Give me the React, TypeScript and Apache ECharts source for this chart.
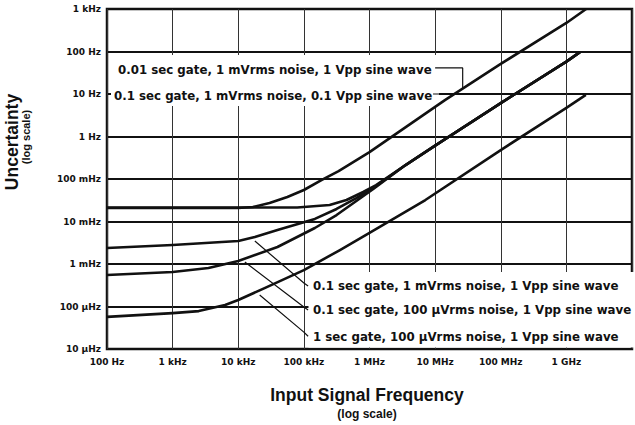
import React, { useEffect, useRef } from "react";
import * as echarts from "echarts";

// Tick labels
const xTickLabels = ["100 Hz", "1 kHz", "10 kHz", "100 kHz", "1 MHz", "10 MHz", "100 MHz", "1 GHz", ""];
const yTickLabels = ["10 µHz", "100 µHz", "1 mHz", "10 mHz", "100 mHz", "1 Hz", "10 Hz", "100 Hz", "1 kHz"];

// Curve names
const seriesNames = [
  "0.01 sec gate, 1 mVrms noise, 1 Vpp sine wave",
  "0.1 sec gate, 1 mVrms noise, 0.1 Vpp sine wave",
  "0.1 sec gate, 1 mVrms noise, 1 Vpp sine wave",
  "0.1 sec gate, 100 µVrms noise, 1 Vpp sine wave",
  "1 sec gate, 100 µVrms noise, 1 Vpp sine wave",
];

// [frequency Hz, uncertainty Hz]
const curveA = [
  [100, 0.0208], [1000, 0.0208], [10000, 0.0208], [16700, 0.0219], [30000, 0.0272],
  [56000, 0.0377], [100000, 0.0551], [188000, 0.095], [338000, 0.154], [1000000, 0.43],
  [14100000, 7.2], [100000000, 51], [1000000000, 469], [2000000000, 1000],
];
const curveB = [
  [100, 0.0213], [1000, 0.0213], [10000, 0.0213], [79100, 0.0213], [247000, 0.0244],
  [446000, 0.032], [802000, 0.0494], [1260000, 0.072], [3550000, 0.213], [10000000, 0.61],
  [100000000, 6.1], [1000000000, 57.8], [1610000000, 97],
];
const curveC = [
  [100, 0.00238], [1000, 0.0028], [10000, 0.00348], [17900, 0.00432], [39600, 0.0063],
  [147000, 0.0115], [315000, 0.0197], [630000, 0.0357], [1170000, 0.063], [3550000, 0.213],
  [10000000, 0.61], [100000000, 6.1], [1000000000, 57.8], [1610000000, 97],
];
const curveD = [
  [100, 0.00055], [1000, 0.00065], [3520, 0.000805], [10000, 0.00118], [39600, 0.00251],
  [147000, 0.00703], [315000, 0.0142], [630000, 0.0303], [1170000, 0.06], [3550000, 0.213],
  [10000000, 0.61], [100000000, 6.1], [1000000000, 57.8], [1610000000, 97],
];
const curveE = [
  [100, 0.000057], [1000, 0.00007], [2500, 0.000078], [6300, 0.000108], [10000, 0.000142],
  [25200, 0.00027], [100000, 0.00072], [349000, 0.0021], [1000000, 0.0054], [7100000, 0.032],
  [100000000, 0.48], [1000000000, 4.7], [1980000000, 9.5],
];

// Leader lines (annotation pointers), in data coordinates
const leaderA = [[10000000, 41], [26300000, 41], [26300000, 13.8]];
const leaderB = [[9300000, 10], [164000000, 10]];
const leaderC = [[17900, 0.00348], [100000, 0.000357], [116000, 0.000303]];
const leaderD = [[12600, 0.00111], [100000, 0.000097], [116000, 0.000083]];
const leaderE = [[21200, 0.000187], [100000, 0.000025], [116000, 0.00002]];

const FONT = "'Liberation Sans', Arial, sans-serif";
const WIDE = "'DejaVu Sans', sans-serif";
const INK = "#111";

export default function App() {
  const ref = useRef<HTMLDivElement>(null);

  useEffect(() => {
    if (!ref.current) return;
    const chart = echarts.init(ref.current, undefined, { renderer: "svg" });

    const curve = (name: string, data: number[][]) => ({
      name,
      type: "line",
      data,
      showSymbol: false,
      smooth: false,
      silent: true,
      lineStyle: { color: INK, width: 2.6, join: "round" },
      z: 3,
    });
    const leader = (data: number[][]) => ({
      type: "line",
      data,
      showSymbol: false,
      silent: true,
      lineStyle: { color: INK, width: 1.2 },
      z: 3,
    });

    const labelText = (text: string, x: number, y: number) => ({
      type: "text",
      x,
      y,
      z: 4,
      style: {
        text,
        fill: INK,
        font: `bold 11.8px ${WIDE}`,
        align: "left",
        verticalAlign: "middle",
      },
    });

    chart.setOption({
      animation: false,
      backgroundColor: "#fff",
      grid: {
        left: 107,
        top: 9,
        right: -4,
        bottom: 76,
        show: true,
        borderColor: INK,
        borderWidth: 2.5,
        backgroundColor: "transparent",
      },
      xAxis: {
        type: "log",
        logBase: 10,
        min: 100,
        max: 1e10,
        axisLine: { show: false },
        axisTick: { show: false },
        splitLine: { show: true, lineStyle: { color: "#333", width: 1 } },
        axisLabel: {
          margin: 8,
          color: INK,
          fontFamily: WIDE,
          fontWeight: "bold",
          fontSize: 9,
          formatter: (v: number) => xTickLabels[Math.round(Math.log10(v)) - 2] ?? "",
        },
      },
      yAxis: {
        type: "log",
        logBase: 10,
        min: 1e-5,
        max: 1e3,
        axisLine: { show: false },
        axisTick: { show: false },
        splitLine: { show: true, lineStyle: { color: INK, width: 1.8 } },
        axisLabel: {
          margin: 6,
          color: INK,
          fontFamily: WIDE,
          fontWeight: "bold",
          fontSize: 9,
          formatter: (v: number) => yTickLabels[Math.round(Math.log10(v)) + 5] ?? "",
        },
      },
      series: [
        curve(seriesNames[0], curveA),
        curve(seriesNames[1], curveB),
        curve(seriesNames[2], curveC),
        curve(seriesNames[3], curveD),
        curve(seriesNames[4], curveE),
        leader(leaderA),
        leader(leaderB),
        leader(leaderC),
        leader(leaderD),
        leader(leaderE),
      ],
      graphic: [
        // white label panels
        { type: "rect", z: 1, shape: { x: 111, y: 55, width: 328, height: 51 }, style: { fill: "#fff" } },
        { type: "rect", z: 1, shape: { x: 308.5, y: 272, width: 330, height: 75.5 }, style: { fill: "#fff" } },
        labelText(seriesNames[0], 118, 70),
        labelText(seriesNames[1], 114, 96),
        labelText(seriesNames[2], 313, 286),
        labelText(seriesNames[3], 313, 310),
        labelText(seriesNames[4], 313, 337),
        // axis titles
        {
          type: "text",
          x: 12,
          y: 142,
          rotation: Math.PI / 2,
          style: { text: "Uncertainty", fill: INK, font: `bold 17.5px ${FONT}`, align: "center", verticalAlign: "middle" },
        },
        {
          type: "text",
          x: 26,
          y: 137,
          rotation: Math.PI / 2,
          style: { text: "(log scale)", fill: INK, font: `bold 11px ${FONT}`, align: "center", verticalAlign: "middle" },
        },
        {
          type: "text",
          x: 367,
          y: 395,
          style: { text: "Input Signal Frequency", fill: INK, font: `bold 17.5px ${FONT}`, align: "center", verticalAlign: "middle" },
        },
        {
          type: "text",
          x: 367,
          y: 414,
          style: { text: "(log scale)", fill: INK, font: `bold 12px ${FONT}`, align: "center", verticalAlign: "middle" },
        },
      ],
    });

    return () => chart.dispose();
  }, []);

  return (
    <div style={{ position: "fixed", left: 0, top: 0, width: 635, height: 425, background: "#fff" }}>
      <div ref={ref} style={{ width: 635, height: 425 }} />
    </div>
  );
}
